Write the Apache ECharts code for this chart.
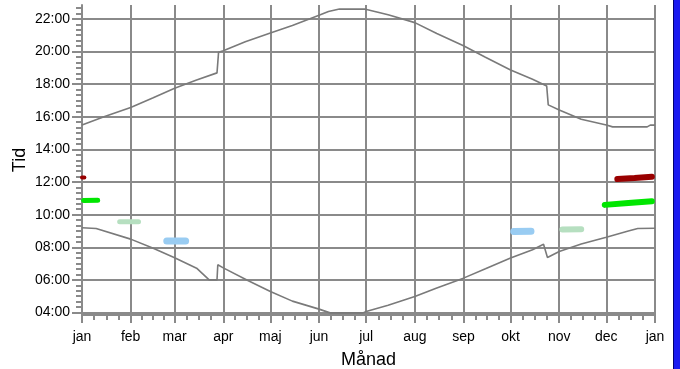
<!DOCTYPE html>
<html><head><meta charset="utf-8">
<script src="https://cdn.jsdelivr.net/npm/echarts@6/dist/echarts.min.js"></script>
<style>html,body{margin:0;padding:0;background:#fff}#c{width:680px;height:369px}</style>
</head><body><div id="c"></div>
<script>
const monthLabels = ['jan','feb','mar','apr','maj','jun','jul','aug','sep','okt','nov','dec','jan'];
const monthStarts = [0,31,59,90,120,151,181,212,243,273,304,334,365];
const hourTicks = [4,6,8,10,12,14,16,18,20,22];

// [day of year, hour]
const sunset = [
  [0,15.50],[14,16.00],[31,16.57],[45,17.15],[59,17.75],[73,18.25],[86,18.69],[87,19.96],
  [90,20.04],[104,20.60],[120,21.14],[134,21.60],[151,22.22],[157,22.45],[164,22.60],
  [180,22.60],[181,22.55],[195,22.25],[212,21.77],[226,21.10],[243,20.35],[257,19.65],
  [273,18.87],[287,18.30],[296,17.89],[297,16.73],[304,16.42],[318,15.85],[334,15.50],
  [338,15.38],[360,15.38],[362,15.49],[365,15.49]
];
const sunrise = [
  [0,9.20],[9,9.15],[31,8.50],[45,7.95],[59,7.36],[73,6.72],[81,6.00],[86,6.00],[86.5,6.93],
  [90,6.74],[105,6.00],[120,5.29],[134,4.70],[151,4.21],[158,3.98],[179,3.98],[181,4.06],
  [195,4.45],[212,4.98],[226,5.50],[243,6.11],[257,6.68],[273,7.34],[287,7.85],[294,8.19],
  [296.5,7.37],[304,7.74],[318,8.20],[334,8.62],[348,9.00],[354,9.15],[365,9.17]
];
const darkRedJan = [[0,12.27],[1.5,12.27]];
const darkRedDec = [[341,12.18],[352,12.24],[363,12.33]];
const greenJan = [[1,10.87],[10,10.88]];
const greenDec = [[333,10.60],[348,10.72],[363,10.82]];
const lightGreenFeb = [[24,9.56],[36,9.56]];
const lightBlueMar = [[54,8.38],[66,8.38]];
const lightBlueOkt = [[275,8.97],[286,8.98]];
const lightGreenNov = [[306,9.09],[318,9.10]];

const minorX = [];
for (let i = 0; i < monthStarts.length - 1; i++) {
  const a = monthStarts[i], b = monthStarts[i+1];
  for (let k = 1; k < 4; k++) minorX.push(a + (b - a) * k / 4);
}
const minorY = [];
for (let k = 0; k <= 56; k++) {
  if (k % 6 !== 0) minorY.push(4 + k / 3);
}

const GRID = '#8a8a8a';
const FONT = 'Liberation Sans, Arial, sans-serif';
const chart = echarts.init(document.getElementById('c'), null, {renderer: 'canvas'});

function blob(data, color, width) {
  return {type:'line', data, symbol:'none', silent:true, xAxisIndex:0, yAxisIndex:0,
    lineStyle:{color, width, cap:'round', join:'round'}, z:3};
}

chart.setOption({
  animation:false,
  backgroundColor:'#fff',
  grid:{left:82, right:25, top:5, bottom:54, containLabel:false, outerBoundsMode:'none'},
  xAxis:[{
    type:'value', min:0, max:365, position:'bottom',
    name:'Månad', nameLocation:'middle', nameGap:36,
    nameTextStyle:{fontSize:18, color:'#000', fontFamily:FONT},
    axisLine:{show:true, onZero:false, lineStyle:{color:GRID, width:2}},
    axisTick:{show:true, customValues:monthStarts, length:8, lineStyle:{color:GRID, width:2}},
    axisLabel:{customValues:monthStarts, margin:15, fontSize:14, color:'#000', fontFamily:FONT,
      formatter:v => monthLabels[monthStarts.indexOf(Math.round(v))] || ''},
    splitLine:{show:true, lineStyle:{color:GRID, width:2}}
  },{
    type:'value', min:0, max:365, position:'bottom',
    axisLine:{show:false, onZero:false},
    axisTick:{show:true, customValues:minorX, length:5, lineStyle:{color:GRID, width:2}},
    axisLabel:{show:false}, splitLine:{show:false}
  }],
  yAxis:[{
    type:'value', min:3.85, max:22.85, position:'left',
    name:'Tid', nameLocation:'middle', nameGap:53, nameRotate:90, nameMoveOverlap:false,
    nameTextStyle:{fontSize:18, color:'#000', fontFamily:FONT},
    axisLine:{show:true, onZero:false, lineStyle:{color:GRID, width:2}},
    axisTick:{show:true, customValues:hourTicks, length:10, lineStyle:{color:GRID, width:2}},
    axisLabel:{customValues:hourTicks, margin:12, fontSize:14, color:'#000', fontFamily:FONT,
      formatter:v => String(Math.round(v)).padStart(2,'0') + ':00'},
    splitLine:{show:true, lineStyle:{color:GRID, width:2}}
  },{
    type:'value', min:3.85, max:22.85, position:'left',
    axisLine:{show:false, onZero:false},
    axisTick:{show:true, customValues:minorY, length:6, lineStyle:{color:GRID, width:2}},
    axisLabel:{show:false}, splitLine:{show:false}
  }],
  series:[
    {type:'line', data:sunset, symbol:'none', silent:true, xAxisIndex:0, yAxisIndex:0,
      lineStyle:{color:'#7a7a7a', width:1.6}, z:4},
    {type:'line', data:sunrise, symbol:'none', silent:true, xAxisIndex:0, yAxisIndex:0,
      lineStyle:{color:'#7a7a7a', width:1.6}, z:4},
    blob(darkRedJan, '#990000', 4),
    blob(darkRedDec, '#990000', 6),
    blob(greenJan, '#00e600', 5),
    blob(greenDec, '#00e600', 6),
    blob(lightGreenFeb, '#b6dfc0', 5),
    blob(lightBlueMar, '#99ccf2', 7),
    blob(lightBlueOkt, '#99ccf2', 7),
    blob(lightGreenNov, '#b6dfc0', 6)
  ],
  graphic:[
    {type:'rect', shape:{x:673, y:0, width:7, height:369}, style:{fill:'#1a1af0'}, silent:true},
    {type:'rect', shape:{x:673, y:0, width:1, height:369}, style:{fill:'#000070'}, silent:true}
  ]
});
</script>
</body></html>
